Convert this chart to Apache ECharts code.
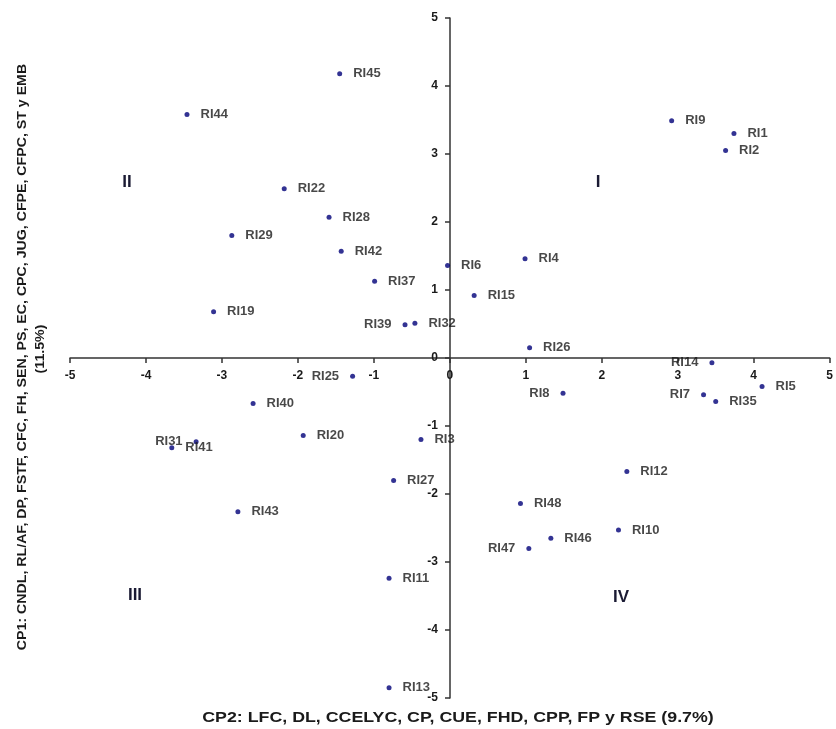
<!DOCTYPE html>
<html>
<head>
<meta charset="utf-8">
<script src="https://cdn.jsdelivr.net/npm/echarts@6/dist/echarts.min.js"></script>
<style>
html,body{margin:0;padding:0;background:#fff;}
#chart{width:836px;height:729px;}
</style>
</head>
<body>
<div id="chart"></div>
<script>
// ---- DATA ----
const names = ['RI45','RI44','RI9','RI1','RI2','RI22','RI28','RI29','RI42','RI6','RI4','RI37','RI15','RI19','RI39','RI32','RI26','RI14','RI5','RI8','RI7','RI35','RI25','RI40','RI20','RI41','RI31','RI3','RI12','RI27','RI48','RI43','RI10','RI46','RI47','RI11','RI13'];
const cp2 = [-1.45,-3.46,2.92,3.74,3.63,-2.18,-1.59,-2.87,-1.43,-0.03,0.99,-0.99,0.32,-3.11,-0.59,-0.46,1.05,3.45,4.11,1.49,3.34,3.50,-1.28,-2.59,-1.93,-3.66,-3.34,-0.38,2.33,-0.74,0.93,-2.79,2.22,1.33,1.04,-0.80,-0.80];
const cp1 = [4.18,3.58,3.49,3.30,3.05,2.49,2.07,1.80,1.57,1.36,1.46,1.13,0.92,0.68,0.49,0.51,0.15,-0.07,-0.42,-0.52,-0.54,-0.64,-0.27,-0.67,-1.14,-1.32,-1.23,-1.20,-1.67,-1.80,-2.14,-2.26,-2.53,-2.65,-2.80,-3.24,-4.85];
const axisTicks = [-5,-4,-3,-2,-1,0,1,2,3,4,5];
const quadrantNames = ['I','II','III','IV'];
const xTitle = 'CP2: LFC, DL, CCELYC, CP, CUE, FHD, CPP, FP y RSE (9.7%)';
const yTitle = 'CP1: CNDL, RL/AF, DP, FSTF, CFC, FH, SEN, PS, EC, CPC, JUG, CFPE, CFPC, ST y EMB';
const yTitle2 = '(11.5%)';

// ---- STYLE ----
const leftLabeled = new Set(['RI14','RI8','RI7','RI47','RI39','RI25','RI31']);
const FONT = '"Liberation Sans", Arial, sans-serif';
const TXT = '#1a1a1a';
const GRID = { left: 70, right: 6, top: 18, bottom: 31 };
const W = 836, H = 729;
const gridW = W - GRID.left - GRID.right;
const gridH = H - GRID.top - GRID.bottom;

const seriesData = names.map((n, i) => ({
  value: [cp2[i], cp1[i]],
  name: n,
  label: { position: leftLabeled.has(n) ? 'left' : 'right' }
}));

const quadPos = { 'I': [598, 182], 'II': [127, 182], 'III': [135, 595], 'IV': [621, 597] };

function axisCommon(extra) {
  return Object.assign({
    type: 'value',
    min: axisTicks[0],
    max: axisTicks[axisTicks.length - 1],
    interval: 1,
    splitLine: { show: false },
    axisLine: { onZero: false, lineStyle: { color: '#333', width: 1.5 } },
    axisTick: { show: true, length: 5, lineStyle: { color: '#333', width: 1.5 } },
    axisLabel: { fontFamily: FONT, fontWeight: 'bold', fontSize: 12, color: TXT, margin: 12 }
  }, extra);
}

const chart = echarts.init(document.getElementById('chart'), null, { renderer: 'canvas' });
chart.setOption({
  animation: false,
  backgroundColor: '#fff',
  grid: GRID,
  xAxis: axisCommon({ position: 'bottom', offset: -gridH / 2 }),
  yAxis: axisCommon({ position: 'left', offset: -gridW / 2 }),
  series: [{
    type: 'scatter',
    symbol: 'circle',
    symbolSize: 5,
    itemStyle: { color: '#000078' },
    data: seriesData,
    label: {
      show: true,
      formatter: p => p.name,
      distance: 11,
      fontFamily: FONT,
      fontWeight: 'bold',
      fontSize: 13,
      color: TXT
    },
    labelLayout: { hideOverlap: false }
  }],
  graphic: [
    {
      type: 'text', x: 458, y: 718, scaleX: 1.27,
      style: { text: xTitle, font: 'bold 14px ' + FONT, fill: TXT, align: 'center', verticalAlign: 'middle' }
    },
    {
      type: 'text', x: 22, y: 357, rotation: Math.PI / 2, scaleX: 1.09,
      style: { text: yTitle, font: 'bold 13px ' + FONT, fill: TXT, align: 'center', verticalAlign: 'middle' }
    },
    {
      type: 'text', x: 40, y: 349, rotation: Math.PI / 2, scaleX: 1.09,
      style: { text: yTitle2, font: 'bold 13px ' + FONT, fill: TXT, align: 'center', verticalAlign: 'middle' }
    }
  ].concat(quadrantNames.map(q => ({
    type: 'text', x: quadPos[q][0], y: quadPos[q][1],
    style: { text: q, font: 'bold 17px ' + FONT, fill: '#1a1a33', align: 'center', verticalAlign: 'middle' }
  })))
});
</script>
</body>
</html>
